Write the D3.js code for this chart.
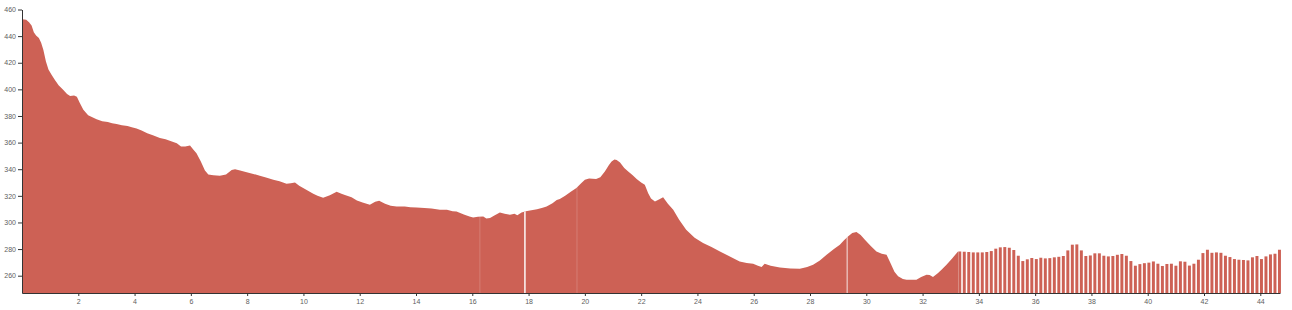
<!DOCTYPE html>
<html>
<head>
<meta charset="utf-8">
<script src="https://cdn.jsdelivr.net/npm/d3@7"></script>
<style>
  html, body { margin: 0; padding: 0; background: #fff; }
  svg { display: block; }
  .axis text { font-family: "Liberation Sans", Arial, sans-serif; font-size: 7px; fill: #606060; }
  .axis path, .axis line { stroke: #333; }
</style>
</head>
<body>
<svg id="chart" width="1292" height="310"></svg>
<script>
// Elevation profile (solid part): distance in km, elevation in m
const profileKm = [0.00,0.15,0.25,0.34,0.42,0.50,0.60,0.68,0.76,0.85,0.94,1.05,1.17,1.30,1.47,1.60,1.71,1.85,1.95,2.05,2.18,2.35,2.50,2.65,2.85,3.05,3.20,3.36,3.55,3.75,3.90,4.07,4.25,4.45,4.65,4.90,5.10,5.30,5.50,5.65,5.80,5.97,6.10,6.20,6.35,6.50,6.62,6.80,7.03,7.25,7.45,7.57,7.75,7.95,8.22,8.45,8.70,8.93,9.15,9.40,9.55,9.70,9.85,10.10,10.35,10.50,10.70,10.94,11.18,11.35,11.50,11.71,11.90,12.10,12.36,12.55,12.69,12.90,13.10,13.31,13.60,13.80,14.02,14.30,14.55,14.85,15.10,15.30,15.44,15.70,15.90,16.03,16.20,16.39,16.50,16.63,16.80,16.98,17.15,17.34,17.50,17.60,17.75,17.90,18.05,18.30,18.50,18.64,18.85,19.00,19.11,19.30,19.50,19.70,19.85,20.00,20.15,20.40,20.55,20.71,20.85,20.95,21.05,21.13,21.25,21.40,21.54,21.70,21.84,22.00,22.13,22.25,22.35,22.49,22.65,22.78,22.95,23.14,23.35,23.60,23.90,24.20,24.50,24.80,25.10,25.50,25.75,25.98,26.15,26.28,26.39,26.60,26.93,27.30,27.64,27.90,28.11,28.35,28.59,28.85,29.06,29.20,29.35,29.50,29.65,29.80,29.95,30.15,30.36,30.55,30.72,30.85,31.00,31.13,31.30,31.43,31.60,31.78,31.95,32.14,32.25,32.37,32.55,32.70,32.85,33.05,33.26];
const profileElev = [452.6,452.3,450.5,448,443,440.5,438.5,435,429.5,421,415,411,407,403,399.5,396.5,395,395.3,394.5,390,384.6,380.5,379,377.5,376,375.5,374.5,374,373,372.5,371.5,370.5,369,367,365.5,363.5,362.5,361,359.6,357,357,357.8,354.5,352,346,339,336,335.5,335,336,339.5,340,339,338,336.5,335,333.5,332,331,329,329.5,330,327.5,324.5,321.5,320,318.5,320.5,323,321.5,320.5,319,316.5,315,313.3,315.5,316.3,314,312.5,312,312,311.5,311.3,310.8,310.5,309.6,309.5,308.5,308.3,306,304.5,303.8,304.2,304.5,303,303.3,305.5,307.5,306.5,305.8,306.5,305.5,307.5,308.5,309,310,311,312,314.5,316.8,317.6,320,323,325.8,329,332,333,332.6,334,338.3,343,345.8,347.3,347,345,341,338.3,335.5,332.6,330,328.3,322,318,315.8,317.5,319,314,309.5,302,294.5,288.5,284.5,281.5,278.2,275,270.7,269.5,269,267.5,266.5,269,267.5,266.2,265.5,265.3,266.5,268.3,271.5,275.8,280,283.3,286.5,289.5,292,292.8,290.5,287,282.5,278.2,276.5,275.8,270,263,259.5,257.5,257,257,257,259,260.7,260.5,259,262,265,268.3,273,278.2];

// Striped (sparse) part: one bar per sample, samples every stripeStep km from stripeStart
const stripeStart = 33.3;
const stripeStep = 0.16;
const stripeElev = [278.2,278,277.8,277.5,277.5,277.5,277.8,278.5,280.3,281.3,281.5,281,279.3,275,271,272.3,273.3,272.5,273.5,273,273.2,273.8,274.2,274.8,279,283.3,283.5,279,274.8,275.2,276.8,276.8,275,274.5,274.8,275.7,276.3,275,271,267.5,268.7,269.4,269.8,270.7,269,267.3,268.8,269,267.5,270.8,270.5,267.6,269,272,277,279.5,277.2,277.5,277.2,275,274,272.5,272,271.8,271.5,273.8,274.8,272.5,274.5,276,276.5,279.5];

// Data breaks in the solid profile
const gapKm = [17.87, 29.32];
const seamKm = [16.27, 19.72];

// Axis ticks
const xTicks = [2,4,6,8,10,12,14,16,18,20,22,24,26,28,30,32,34,36,38,40,42,44];
const yTicks = [260,280,300,320,340,360,380,400,420,440,460];
const xDomain = [0, 44.7];
const yDomain = [247, 460];

const W = 1292, H = 310;
const margin = {top: 9.5, right: 12, bottom: 17, left: 22};
const fill = "#cd6155";

const svg = d3.select("#chart");
const x = d3.scaleLinear().domain(xDomain).range([margin.left, W - margin.right]);
const y = d3.scaleLinear().domain(yDomain).range([H - margin.bottom, margin.top]);

const profile = profileKm.map((k, i) => ({km: k, elev: profileElev[i]}));
const stripes = stripeElev.map((e, i) => ({km: stripeStart + i * stripeStep, elev: e}));

const area = d3.area()
  .x(d => x(d.km))
  .y0(y(yDomain[0]))
  .y1(d => y(d.elev))
  .curve(d3.curveLinear);

svg.append("defs").append("clipPath").attr("id", "clipArea")
  .append("path").datum(profile).attr("d", area);

svg.append("path").datum(profile).attr("d", area).attr("fill", fill);

const barW = (x(stripeStep) - x(0)) * 0.66;
svg.append("g").selectAll("rect").data(stripes).join("rect")
  .attr("x", d => x(d.km) - barW * 0.3)
  .attr("y", d => y(d.elev))
  .attr("width", barW)
  .attr("height", d => y(yDomain[0]) - y(d.elev))
  .attr("fill", fill);

// gaps / seams
svg.append("g").selectAll("line").data(gapKm).join("line")
  .attr("x1", d => x(d)).attr("x2", d => x(d))
  .attr("y1", y(yDomain[0])).attr("y2", y(yDomain[1]))
  .attr("stroke", "#fff").attr("stroke-width", (d, i) => i === 0 ? 1.6 : 1.1)
  .attr("stroke-opacity", (d, i) => i === 0 ? 0.9 : 0.75)
  .attr("clip-path", "url(#clipArea)");
svg.append("g").selectAll("line").data(seamKm).join("line")
  .attr("x1", d => x(d)).attr("x2", d => x(d))
  .attr("y1", y(yDomain[0])).attr("y2", y(yDomain[1]))
  .attr("stroke", "#fff").attr("stroke-width", 1).attr("stroke-opacity", 0.18)
  .attr("clip-path", "url(#clipArea)");

// axes
const xAxis = d3.axisBottom(x).tickValues(xTicks).tickSize(3).tickPadding(3).tickSizeOuter(0);
const yAxis = d3.axisLeft(y).tickValues(yTicks).tickSize(4).tickPadding(2).tickSizeOuter(0);

svg.append("g").attr("class", "axis").attr("color", "#333").attr("transform", `translate(0,${y(yDomain[0])})`).call(xAxis);
svg.append("g").attr("class", "axis").attr("color", "#333").attr("transform", `translate(${margin.left},0)`).call(yAxis);
</script>
</body>
</html>
